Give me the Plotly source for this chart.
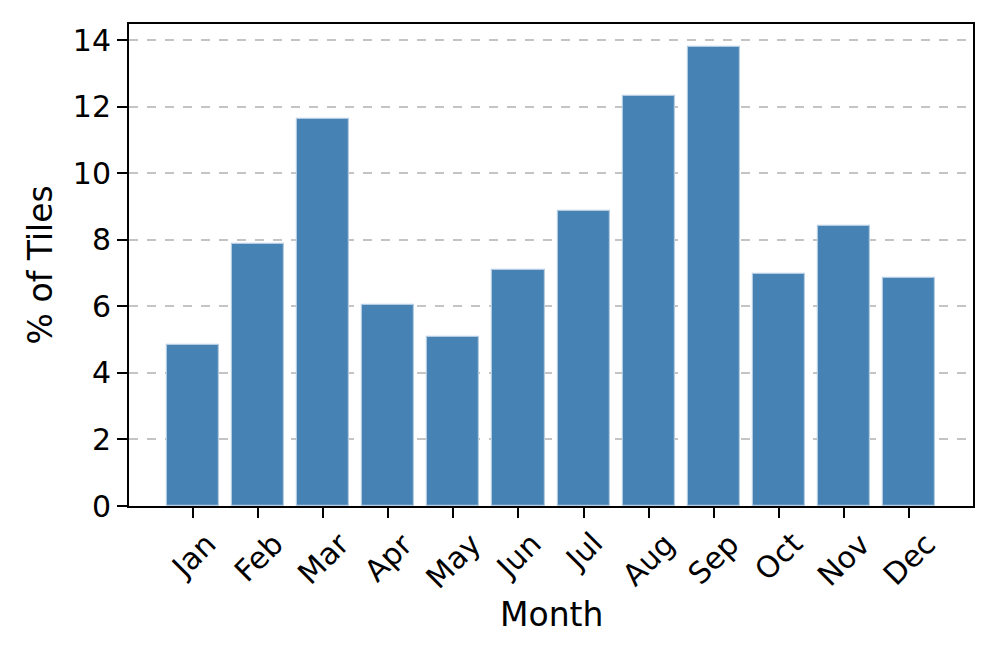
import plotly.graph_objects as go

months = ["Jan", "Feb", "Mar", "Apr", "May", "Jun",
          "Jul", "Aug", "Sep", "Oct", "Nov", "Dec"]
pct_tiles = [4.84, 7.89, 11.64, 6.03, 5.07, 7.10,
             8.86, 12.33, 13.80, 6.97, 8.43, 6.86]
y_ticks = [0, 2, 4, 6, 8, 10, 12, 14]

FONT = "DejaVu Sans, sans-serif"
TICK_SIZE = 30
LABEL_SIZE = 33

fig = go.Figure()

fig.add_trace(go.Bar(
    x=list(range(len(months))),
    y=pct_tiles,
    width=0.8,
    marker=dict(color="#4682B4", line=dict(color="#b4cce2", width=1.2)),
))

# rotated month labels, centred under each tick (matplotlib style)
for i, m in enumerate(months):
    fig.add_annotation(
        x=i, y=-0.036, xref="x", yref="paper",
        text=m, textangle=-45, showarrow=False,
        xanchor="center", yanchor="top",
        font=dict(family=FONT, size=TICK_SIZE, color="black"),
    )

# axis titles
fig.add_annotation(
    x=0.5, y=-0.226, xref="paper", yref="paper",
    text="Month", showarrow=False, xanchor="center", yanchor="middle",
    font=dict(family=FONT, size=LABEL_SIZE, color="black"),
)
fig.add_annotation(
    x=-0.105, y=0.5, xref="paper", yref="paper",
    text="% of Tiles", textangle=-90, showarrow=False,
    xanchor="center", yanchor="middle",
    font=dict(family=FONT, size=LABEL_SIZE, color="black"),
)

# page body has an 8px margin, so the figure is a bit smaller than the window
fig.update_layout(
    width=981, height=648,
    paper_bgcolor="white", plot_bgcolor="white",
    margin=dict(l=121, r=16, t=16, b=150, autoexpand=False),
    showlegend=False,
    font=dict(family=FONT, size=TICK_SIZE, color="black"),
    bargap=0,
)

fig.update_xaxes(
    range=[-0.99, 11.99],
    tickmode="array", tickvals=list(range(len(months))), ticktext=[""] * len(months),
    ticks="outside", ticklen=10, tickwidth=2, tickcolor="black",
    showline=True, linecolor="black", linewidth=2, mirror=True,
    showgrid=False, zeroline=False,
)

fig.update_yaxes(
    range=[0, 14.49],
    tickmode="array", tickvals=y_ticks,
    ticks="outside", ticklen=10, tickwidth=2, tickcolor="black",
    showline=True, linecolor="black", linewidth=2, mirror=True,
    showgrid=True, gridcolor="#c4c4c4", griddash="dash", gridwidth=1.5,
    zeroline=False,
)

fig.write_html("out.html")
